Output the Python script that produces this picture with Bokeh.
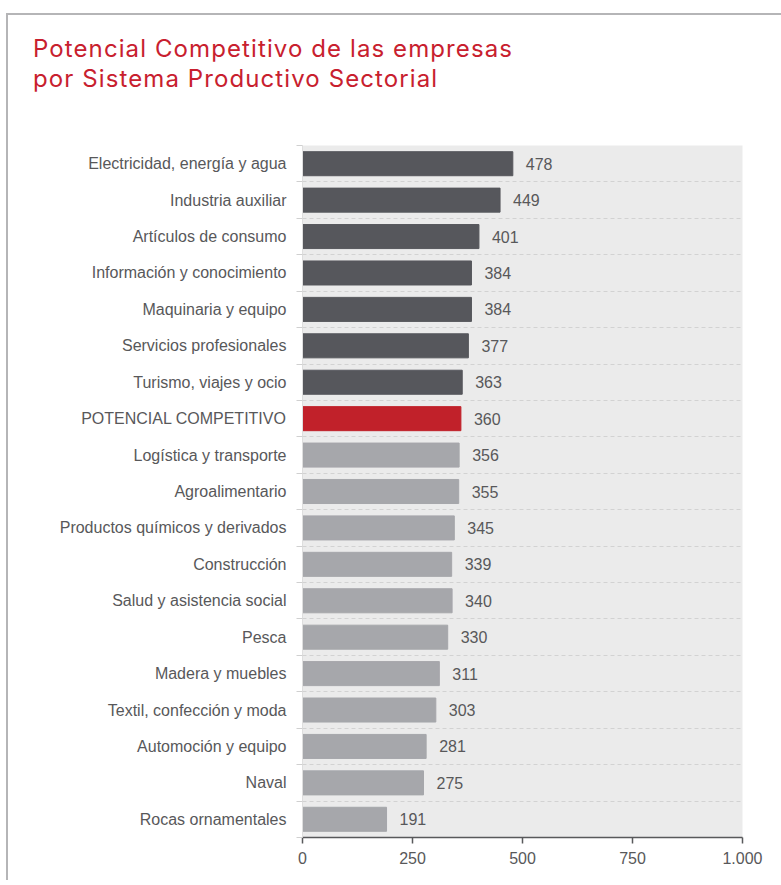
from bokeh.plotting import figure
from bokeh.models import ColumnDataSource, FixedTicker, Range1d, Div
from bokeh.layouts import column
from bokeh.embed import file_html
from bokeh.resources import INLINE

categories = [
    "Electricidad, energía y agua",
    "Industria auxiliar",
    "Artículos de consumo",
    "Información y conocimiento",
    "Maquinaria y equipo",
    "Servicios profesionales",
    "Turismo, viajes y ocio",
    "POTENCIAL COMPETITIVO",
    "Logística y transporte",
    "Agroalimentario",
    "Productos químicos y derivados",
    "Construcción",
    "Salud y asistencia social",
    "Pesca",
    "Madera y muebles",
    "Textil, confección y moda",
    "Automoción y equipo",
    "Naval",
    "Rocas ornamentales",
]
values = [478, 449, 401, 384, 384, 377, 363, 360, 356, 355, 345, 339, 340, 330, 311, 303, 281, 275, 191]
groups = ["top"] * 7 + ["total"] + ["rest"] * 11
x_ticks = [0, 250, 500, 750, 1000]
x_tick_labels = ["0", "250", "500", "750", "1.000"]
title_lines = ["Potencial Competitivo de las empresas", "por Sistema Productivo Sectorial"]

color_map = {"top": "#56575c", "total": "#c1212a", "rest": "#a6a7ab"}

n = len(categories)
ypos = [n - 1 - i for i in range(n)]
src = ColumnDataSource(dict(
    y=ypos,
    v=values,
    lab=[str(v) for v in values],
    color=[color_map[g] for g in groups],
))

FONT = "Liberation Sans"
TXT = "#58585a"

p = figure(width=773, height=745, output_backend="svg", toolbar_location=None,
           x_range=Range1d(0, 1000), y_range=Range1d(-0.5, n - 0.5),
           min_border_left=294, min_border_right=39, min_border_top=10, min_border_bottom=43)
p.background_fill_color = "#ebebeb"
p.border_fill_color = "white"
p.outline_line_color = None

p.hbar(y="y", right="v", left=0, height=0.66, color="color", source=src)
p.text(x="v", y="y", text="lab", source=src, x_offset=13, text_baseline="middle",
       text_align="left", text_font_size="16px", text_color=TXT, text_font={"value": FONT})

# axes
p.xaxis.ticker = FixedTicker(ticks=x_ticks)
p.xaxis.major_label_overrides = {t: l for t, l in zip(x_ticks, x_tick_labels)}
p.xaxis.axis_line_color = "#58595b"
p.xaxis.axis_line_width = 1.5
p.xaxis.major_tick_line_color = "#58595b"
p.xaxis.major_tick_line_width = 1.5
p.xaxis.major_tick_in = 0
p.xaxis.major_tick_out = 6
p.xaxis.minor_tick_line_color = None
p.xaxis.major_label_text_font_size = "16px"
p.xaxis.major_label_text_font = FONT
p.xaxis.major_label_text_color = TXT
p.xaxis.major_label_standoff = 8

bounds = [i - 0.5 for i in range(n + 1)]
p.yaxis.ticker = FixedTicker(ticks=ypos, minor_ticks=bounds)
p.yaxis.major_label_overrides = {y: c for y, c in zip(ypos, categories)}
p.yaxis.axis_line_color = "#dedede"
p.yaxis.major_tick_line_color = None
p.yaxis.minor_tick_line_color = "#d0d0d0"
p.yaxis.minor_tick_in = 0
p.yaxis.minor_tick_out = 6
p.yaxis.major_label_text_font_size = "16px"
p.yaxis.major_label_text_font = FONT
p.yaxis.major_label_text_color = TXT
p.yaxis.major_label_standoff = 10

p.xgrid.grid_line_color = None
p.ygrid.ticker = FixedTicker(ticks=bounds)
p.ygrid.grid_line_color = "#d2d2d2"
p.ygrid.grid_line_dash = "4 3"
p.ygrid.grid_line_width = 1

title = Div(text="<br>".join(title_lines), width=720, height=101, margin=(19, 0, 0, 25),
            styles={"font-family": "Inter", "font-size": "24px", "color": "#c8202e",
                    "line-height": "30px", "letter-spacing": "1.1px",
                    "font-variant-ligatures": "none"})

layout = column(title, p, spacing=0, margin=(13, 0, 0, 6),
                styles={"border-top": "2px solid #b5b5b7", "border-left": "2px solid #b5b5b7"})

open("out.html", "w").write(file_html(layout, INLINE))
